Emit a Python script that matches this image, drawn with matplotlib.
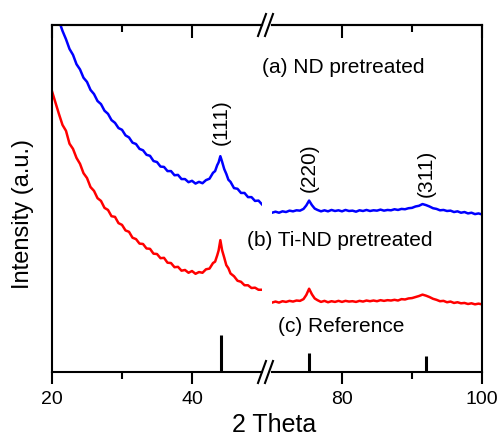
import matplotlib
matplotlib.use("Agg")
import matplotlib.pyplot as plt
from matplotlib.ticker import FixedLocator, NullFormatter
from matplotlib.lines import Line2D

plt.rcParams["font.family"] = ["Liberation Sans", "DejaVu Sans"]

# --- XRD patterns, low-angle segment (2 theta 20-50) ---
two_theta_low = [20.0, 20.5, 21.0, 21.5, 22.0, 22.5, 23.0, 23.5, 24.0, 24.5,
                 25.0, 25.5, 26.0, 26.5, 27.0, 27.5, 28.0, 28.5, 29.0, 29.5,
                 30.0, 30.5, 31.0, 31.5, 32.0, 32.5, 33.0, 33.5, 34.0, 34.5,
                 35.0, 35.5, 36.0, 36.5, 37.0, 37.5, 38.0, 38.5, 39.0, 39.5,
                 40.0, 40.5, 41.0, 41.5, 42.0, 42.5, 43.0, 43.3, 43.6, 43.8,
                 44.05, 44.3, 44.6, 44.9, 45.2, 45.5, 46.0, 46.5, 47.0, 47.5,
                 48.0, 48.5, 49.0, 49.5, 50.0]
nd_low = [108.4, 104.0, 101.2, 98.3, 95.9, 93.1, 91.4, 88.7, 87.2, 84.8,
          83.6, 81.3, 80.1, 78.1, 77.2, 75.3, 74.4, 72.6, 71.8, 70.3,
          69.8, 68.2, 67.6, 66.1, 65.7, 64.3, 63.9, 62.6, 62.3, 60.8,
          60.5, 59.2, 59.1, 57.9, 57.9, 56.7, 56.8, 55.6, 55.6, 54.7,
          55.1, 54.3, 54.8, 54.4, 55.3, 55.7, 57.4, 57.9, 59.6, 60.4,
          62.2, 60.6, 58.5, 57.1, 55.4, 54.8, 53.0, 52.8, 51.6, 51.6,
          50.4, 50.4, 49.3, 49.4, 48.3]
tind_low = [80.9, 77.6, 74.3, 71.2, 69.5, 65.8, 64.3, 61.7, 60.0, 57.3,
            55.9, 53.3, 52.2, 50.1, 49.3, 47.3, 46.7, 44.9, 44.7, 42.9,
            42.4, 40.8, 40.4, 38.7, 38.3, 37.0, 36.9, 35.6, 35.5, 34.1,
            34.0, 32.8, 32.9, 31.5, 31.4, 30.2, 30.3, 29.2, 29.4, 28.6,
            29.1, 28.3, 28.8, 28.6, 29.6, 29.8, 31.4, 31.8, 33.6, 35.0,
            38.0, 35.1, 33.0, 30.8, 29.9, 28.4, 27.6, 26.3, 26.0, 25.0,
            25.0, 24.2, 24.3, 23.7, 23.7]

# --- high-angle segment (2 theta 70-100) ---
two_theta_high = [70.0, 70.5, 71.0, 71.5, 72.0, 72.5, 73.0, 73.5, 74.0, 74.5,
                  74.9, 75.3, 75.7, 76.1, 76.5, 77.0, 77.5, 78.0, 78.5, 79.0,
                  79.5, 80.0, 80.5, 81.0, 81.5, 82.0, 82.5, 83.0, 83.5, 84.0,
                  84.5, 85.0, 85.5, 86.0, 86.5, 87.0, 87.5, 88.0, 88.5, 89.0,
                  89.5, 90.0, 90.5, 91.0, 91.5, 92.0, 92.5, 93.0, 93.5, 94.0,
                  94.5, 95.0, 95.5, 96.0, 96.5, 97.0, 97.5, 98.0, 98.5, 99.0,
                  99.5, 100.0]
nd_high = [45.9, 46.2, 45.9, 46.3, 46.1, 46.5, 46.3, 46.6, 46.5, 47.0,
           48.0, 49.4, 48.1, 47.1, 46.7, 46.3, 46.6, 46.3, 46.7, 46.4,
           46.6, 46.3, 46.7, 46.4, 46.5, 46.2, 46.6, 46.4, 46.7, 46.4,
           46.6, 46.5, 46.8, 46.5, 46.7, 46.6, 46.9, 46.7, 47.0, 46.9,
           47.2, 47.3, 47.7, 47.9, 48.4, 48.1, 47.7, 47.2, 47.0, 46.6,
           46.7, 46.4, 46.5, 46.1, 46.3, 45.9, 46.1, 45.7, 45.9, 45.5,
           45.7, 45.4]
tind_high = [20.0, 20.3, 20.0, 20.4, 20.2, 20.5, 20.3, 20.6, 20.5, 21.0,
             22.2, 24.0, 22.4, 21.2, 20.7, 20.2, 20.5, 20.1, 20.4, 20.2,
             20.5, 20.2, 20.5, 20.3, 20.4, 20.2, 20.5, 20.3, 20.6, 20.4,
             20.6, 20.4, 20.7, 20.5, 20.7, 20.6, 20.8, 20.6, 21.0, 20.9,
             21.2, 21.3, 21.6, 21.9, 22.3, 22.0, 21.6, 21.1, 20.8, 20.4,
             20.5, 20.1, 20.3, 19.9, 20.1, 19.8, 19.9, 19.6, 19.8, 19.5,
             19.7, 19.5]

# --- diamond reference lines ---
ref_positions = [44.2, 75.3, 92.0]
ref_heights = [10.7, 5.5, 4.6]
ref_hkl = ["(111)", "(220)", "(311)"]
hkl_label_y = [72.0, 59.0, 57.3]

sample_labels = ["(a) ND pretreated", "(b) Ti-ND pretreated", "(c) Reference"]

W, H = 499, 440
fig = plt.figure(figsize=(W / 100, H / 100), dpi=100)

ax_l = fig.add_axes([52 / W, 68 / H, 210 / W, 347 / H])
ax_r = fig.add_axes([272 / W, 68 / H, 210 / W, 347 / H], sharey=ax_l)

lw = 1.8
ax_l.plot(two_theta_low, nd_low, color="#0000ff", lw=lw)
ax_l.plot(two_theta_low, tind_low, color="#ff0000", lw=lw)
ax_r.plot(two_theta_high, nd_high, color="#0000ff", lw=lw)
ax_r.plot(two_theta_high, tind_high, color="#ff0000", lw=lw)

for pos, h in zip(ref_positions, ref_heights):
    target = ax_l if pos < 60 else ax_r
    target.vlines(pos, 0, h, color="black", lw=2.2)

ax_l.set_xlim(20, 50)
ax_r.set_xlim(70, 100)
ax_l.set_ylim(0, 100)

for ax, majors, minors in [(ax_l, [20, 40], [30]), (ax_r, [80, 100], [90])]:
    for s in ax.spines.values():
        s.set_linewidth(1.5)
    ax.xaxis.set_major_locator(FixedLocator(majors))
    ax.xaxis.set_minor_locator(FixedLocator(minors))
    ax.tick_params(axis="x", which="major", direction="out", length=8.5,
                   width=1.5, labelsize=14, pad=5)
    ax.tick_params(axis="x", which="minor", direction="out", length=5,
                   width=1.5)
    ax.tick_params(axis="y", left=False, right=False, labelleft=False)
    top = ax.secondary_xaxis("top")
    top.xaxis.set_major_locator(FixedLocator(majors))
    top.xaxis.set_minor_locator(FixedLocator(minors))
    top.xaxis.set_major_formatter(NullFormatter())
    top.tick_params(axis="x", which="major", direction="in", length=9, width=1.5)
    top.tick_params(axis="x", which="minor", direction="in", length=5, width=1.5)
    top.spines["top"].set_linewidth(1.5)

ax_l.spines["right"].set_visible(False)
ax_r.spines["left"].set_visible(False)

# break marks on the x axis
for y0 in (440 - 25, 440 - 372):
    for x0 in (262, 269):
        fig.add_artist(Line2D([(x0 - 4) / W, (x0 + 4) / W],
                              [(y0 - 11) / H, (y0 + 11) / H],
                              color="black", lw=1.5,
                              transform=fig.transFigure))

# peak indices
ax_l.text(ref_positions[0], hkl_label_y[0], ref_hkl[0], rotation=90,
          ha="center", va="center", fontsize=15)
for pos, ly, lab in zip(ref_positions[1:], hkl_label_y[1:], ref_hkl[1:]):
    ax_r.text(pos, ly, lab, rotation=90, ha="center", va="center", fontsize=15)

for (px, py), lab in zip([(343, 67), (340, 240), (341, 326)], sample_labels):
    fig.text(px / W, 1 - py / H, lab, ha="center", va="center", fontsize=15)

fig.text(274 / W, 1 - 425 / H, "2 Theta", ha="center", va="center", fontsize=18)
fig.text(23 / W, 1 - 214 / H, "Intensity (a.u.)", rotation=90,
         ha="center", va="center", fontsize=17)

fig.savefig("out.png", dpi=100)
